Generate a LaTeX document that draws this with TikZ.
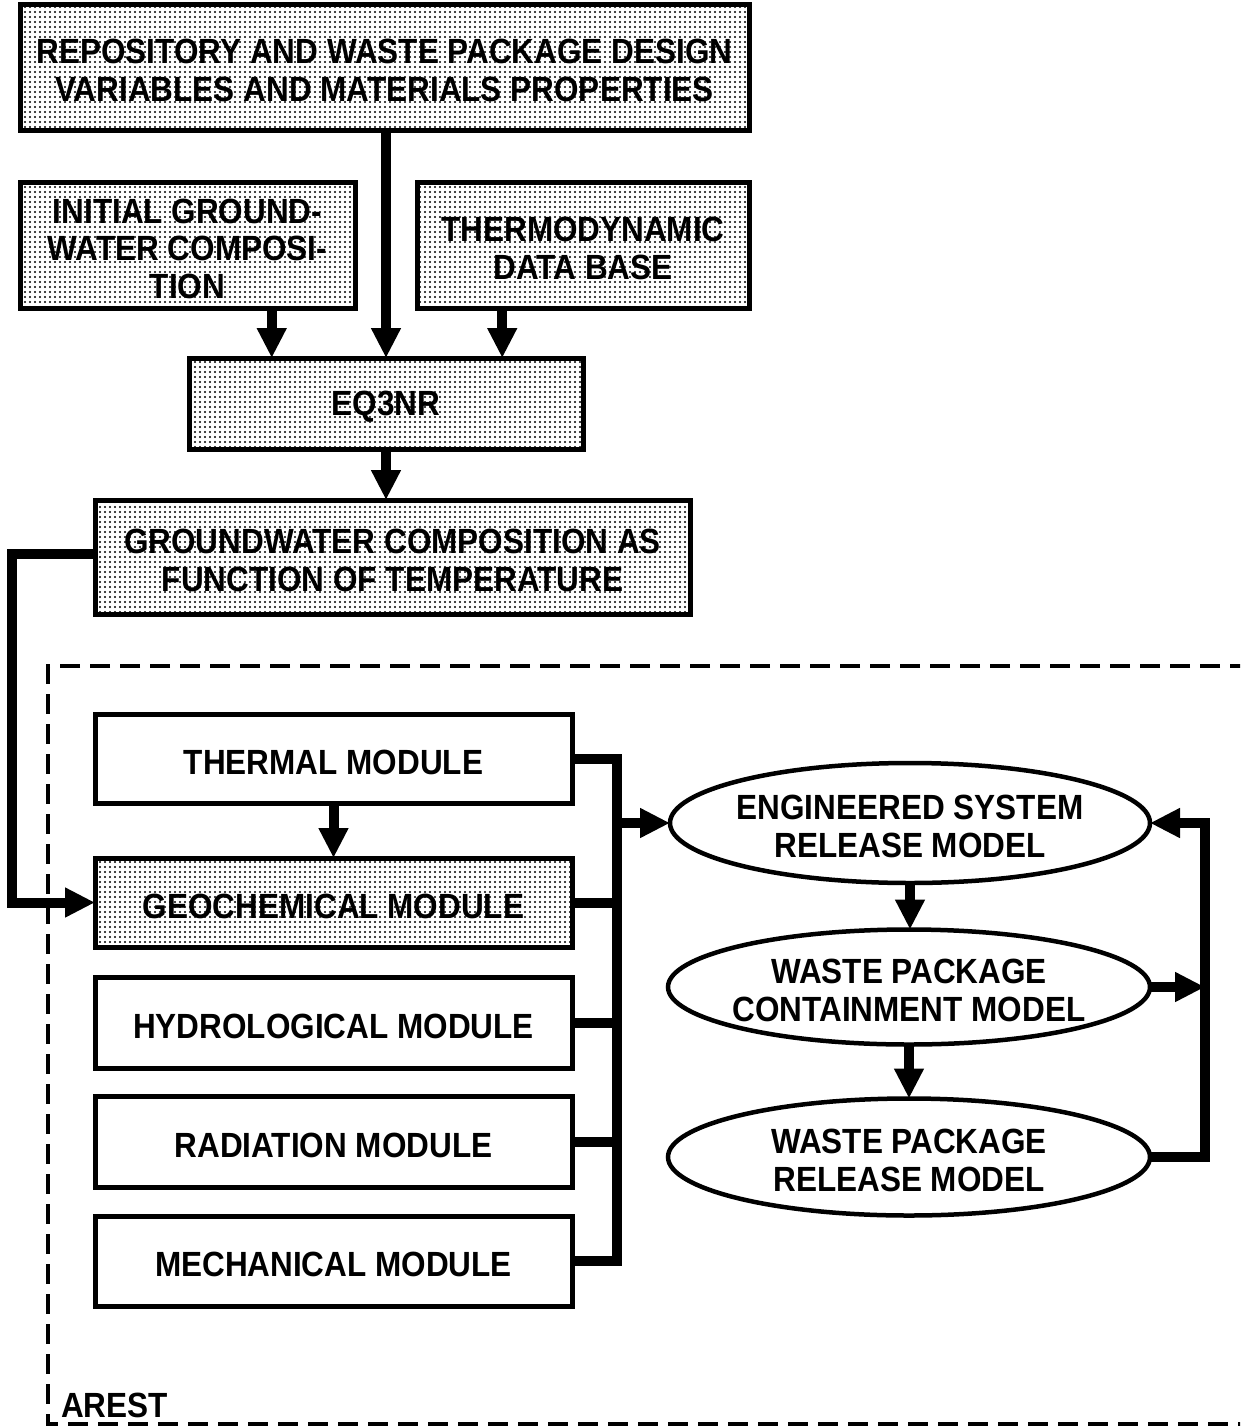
\documentclass[tikz,border=0pt]{standalone}
\usepackage{fontspec}
\setmainfont{Liberation Sans}[FakeStretch=0.9]
\usetikzlibrary{arrows.meta,shapes.geometric,patterns.meta,calc}

\begin{document}
\begin{tikzpicture}[x=1pt,y=-1pt,
  lbl/.style={font=\fontsize{35}{37.5}\selectfont\bfseries, align=center, inner sep=0pt},
  txt/.style={lbl, yshift=-3.5pt},
  box/.style={draw, line width=5pt, rectangle, inner sep=0pt, outer sep=0pt, fill=white},
  shaded/.style={box, pattern={Dots[distance=5pt, radius=1.15pt]}, pattern color=black},
  ellip/.style={draw, line width=4.5pt, ellipse, inner sep=0pt, outer sep=0pt},
  conn/.style={line width=10pt},
  arr/.style={conn, -{Triangle[length=30pt,width=28pt]}},
  frame/.style={line width=3.5pt, dash pattern=on 20pt off 10pt}
]
\useasboundingbox (0,0) rectangle (1240,1427);
\fill[white] (0,0) rectangle (1240,1427);
\clip (0,0) rectangle (1240,1427);

% input boxes
\node[shaded, minimum width=729pt, minimum height=126pt] (top) at (384.5,67) {};
\node[txt] (topt) at (top) {REPOSITORY AND WASTE PACKAGE DESIGN\\VARIABLES AND MATERIALS PROPERTIES};
\node[shaded, minimum width=335pt, minimum height=126pt] (init) at (187.5,245) {};
\node[txt] (initt) at (init) {INITIAL GROUND-\\WATER COMPOSI-\\TION};
\node[shaded, minimum width=332pt, minimum height=126pt] (thermo) at (583,245) {};
\node[txt] (thermot) at (thermo) {THERMODYNAMIC\\DATA BASE};
\node[shaded, minimum width=394pt, minimum height=91pt] (eq) at (386,403.5) {};
\node[txt] (eqt) at (eq) {EQ3NR};
\node[shaded, minimum width=595pt, minimum height=114pt] (gw) at (392.5,557) {};
\node[txt] (gwt) at (gw) {GROUNDWATER COMPOSITION AS\\FUNCTION OF TEMPERATURE};

% AREST boundary
\draw[frame] (1280,666) -- (48,666) -- (48,1424) -- (1280,1424);
\node[lbl, anchor=south west] (arest) at (61,1418) {AREST};

% modules
\node[box, minimum width=477pt, minimum height=89pt] (thermal) at (333.5,758.5) {};
\node[txt] (thermalt) at (thermal) {THERMAL MODULE};
\node[shaded, minimum width=477pt, minimum height=89pt] (geo) at (333.5,902.5) {};
\node[txt] (geot) at (geo) {GEOCHEMICAL MODULE};
\node[box, minimum width=477pt, minimum height=91pt] (hydro) at (333.5,1022.5) {};
\node[txt] (hydrot) at (hydro) {HYDROLOGICAL MODULE};
\node[box, minimum width=477pt, minimum height=91pt] (rad) at (333.5,1141.5) {};
\node[txt] (radt) at (rad) {RADIATION MODULE};
\node[box, minimum width=477pt, minimum height=90pt] (mech) at (333.5,1261) {};
\node[txt] (mecht) at (mech) {MECHANICAL MODULE};

% release models
\node[ellip, minimum width=480pt, minimum height=120pt] (esrm) at (910,823) {};
\node[txt] (esrmt) at (esrm) {ENGINEERED SYSTEM\\RELEASE MODEL};
\node[ellip, minimum width=482pt, minimum height=115pt] (wpcm) at (909,987) {};
\node[txt] (wpcmt) at (wpcm) {WASTE PACKAGE\\CONTAINMENT MODEL};
\node[ellip, minimum width=482pt, minimum height=117pt] (wprm) at (909,1157) {};
\node[txt] (wprmt) at (wprm) {WASTE PACKAGE\\RELEASE MODEL};

% connectors into EQ3NR
\coordinate (inA) at ($(eq.north west)!0.21!(eq.north east)$);
\coordinate (inC) at ($(eq.north west)!0.795!(eq.north east)$);
\draw[arr] (init.south -| inA) -- (inA);
\draw[arr] (top.south -| eq.north) -- (eq.north);
\draw[arr] (thermo.south -| inC) -- (inC);
\draw[arr] (eq.south) -- (eq.south |- gw.north);

% groundwater composition feeds the geochemical module
\draw[arr] ([yshift=3pt]gw.west) -- ++(-83,0) |- (geo.west);
\draw[arr] (thermal.south) -- (thermal.south |- geo.north);

% module bus
\coordinate (bus) at (617,0);
\draw[conn] (thermal.east) -| (bus |- mech.east) -- (mech.east);
\draw[conn] (geo.east) -- (geo.east -| bus);
\draw[conn] (hydro.east) -- (hydro.east -| bus);
\draw[conn] (rad.east) -- (rad.east -| bus);
\draw[arr] (bus |- esrm.west) -- (esrm.west);

% release model chain and feedback
\draw[arr] (esrm.south) -- (esrm.south |- wpcm.north);
\draw[arr] (wpcm.south) -- (wpcm.south |- wprm.north);
\coordinate (loop) at (1205,0);
\draw[arr] (wprm.east) -| (loop |- esrm.east) -- (esrm.east);
\draw[arr] (wpcm.east) -- (wpcm.east -| loop);
\end{tikzpicture}
\end{document}
